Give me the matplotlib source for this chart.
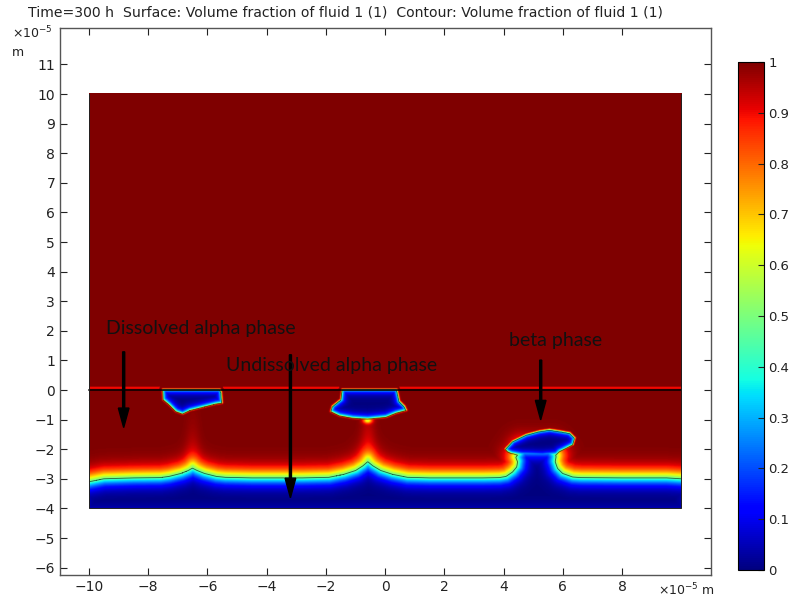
import numpy as np
import matplotlib.pyplot as plt
from matplotlib.path import Path

# interface (x, y in 1e-5 m)
bottom_x = [-10.5, -10.0, -9.5, -8.5, -7.6, -7.3, -6.9, -6.65, -6.51, -6.35, -6.1, -5.7, -5.4,
            -4.5, -2.8, -1.9, -1.4, -1.0, -0.75, -0.59, -0.42, -0.15, 0.25, 0.75, 1.5,
            3.3, 3.85, 4.08, 4.30, 4.44, 4.47, 4.41, 4.6, 5.6, 5.77, 5.74, 5.82, 5.99,
            6.33, 6.61, 8.0, 9.5, 10.0, 10.5, 10.5, -10.5]
bottom_y = [-3.12, -3.1, -3.0, -2.97, -2.96, -2.92, -2.82, -2.72, -2.64, -2.72, -2.82, -2.92, -2.95,
            -2.97, -2.97, -2.95, -2.85, -2.72, -2.56, -2.42, -2.56, -2.72, -2.85, -2.95, -2.97,
            -2.97, -2.96, -2.92, -2.77, -2.60, -2.43, -2.28, -2.0, -2.0, -2.24, -2.43, -2.65, -2.82,
            -2.94, -2.96, -2.97, -2.97, -3.0, -3.02, -4.5, -4.5]

blob1_x = [-7.52, -7.50, -7.30, -7.07, -6.85, -6.60, -6.28, -5.72, -5.52, -5.55, -5.59]
blob1_y = [0.0, -0.34, -0.51, -0.74, -0.82, -0.70, -0.62, -0.48, -0.45, -0.10, 0.0]

blob2_x = [-1.46, -1.50, -1.79, -1.84, -1.55, -1.10, -0.60, 0.02, 0.36, 0.70, 0.64, 0.47, 0.38]
blob2_y = [0.0, -0.34, -0.57, -0.74, -0.88, -0.96, -0.99, -0.93, -0.79, -0.70, -0.57, -0.40, 0.0]

beta_x = [4.05, 4.30, 4.75, 5.20, 5.54, 5.88, 6.22, 6.39, 6.33, 6.10, 5.88, 5.77, 5.3, 4.6, 4.25, 4.12]
beta_y = [-2.01, -1.75, -1.53, -1.41, -1.36, -1.41, -1.47, -1.64, -1.86, -1.98, -2.09, -2.20, -2.25, -2.22, -2.15, -2.09]

peaks_x = [-6.51, -0.59]
peaks_y = [-2.64, -2.42]
plume_len = [0.8, 1.3]

cbar_ticks = [0, 0.1, 0.2, 0.3, 0.4, 0.5, 0.6, 0.7, 0.8, 0.9, 1]
cbar_labels = ["0", "0.1", "0.2", "0.3", "0.4", "0.5", "0.6", "0.7", "0.8", "0.9", "1"]


def signed_dist(px, py, vx, vy):
    verts = np.column_stack([vx, vy])
    d = np.full(px.shape, np.inf)
    for i in range(len(verts)):
        x1, y1 = verts[i]
        x2, y2 = verts[(i + 1) % len(verts)]
        dx, dy = x2 - x1, y2 - y1
        t = np.clip(((px - x1) * dx + (py - y1) * dy) / (dx * dx + dy * dy), 0, 1)
        d = np.minimum(d, np.hypot(px - x1 - t * dx, py - y1 - t * dy))
    inside = Path(verts).contains_points(np.column_stack([px.ravel(), py.ravel()])).reshape(px.shape)
    return np.where(inside, -d, d)


xs = np.linspace(-10, 10, 801)
ys = np.linspace(-4, 10, 561)
X, Y = np.meshgrid(xs, ys)
phi = np.ones_like(X)
low = ys < 0.3
XL, YL = X[low], Y[low]

# diffuse bottom layer
db = signed_dist(XL, YL, bottom_x, bottom_y)
phi_b = 0.5 * (1 + np.tanh(db / np.where(db > 0, 0.36, 0.32)))
for xp, yp, L in zip(peaks_x, peaks_y, plume_len):
    h = np.clip(YL - yp, 0, None)
    phi_b -= 0.12 * np.exp(-((XL - xp) / 0.25) ** 2) * np.exp(-h / L) * (1 - np.exp(-h / 0.25))
phi_b -= 0.35 * np.exp(-(((XL + 0.6) / 0.15) ** 2 + ((YL + 1.05) / 0.1) ** 2))

# sharp blobs
dmin = np.full(XL.shape, np.inf)
phi_s = np.ones_like(XL)
for bx, by in [(blob1_x, blob1_y), (blob2_x, blob2_y), (beta_x, beta_y)]:
    d = signed_dist(XL, YL, bx, by)
    dmin = np.minimum(dmin, d)
    p = np.where(d > 0, 0.5 + 0.5 * np.tanh(d / 0.035), 0.5 * np.exp(d / 0.09))
    phi_s = np.minimum(phi_s, p)

f = np.minimum(phi_b, phi_s)
band = (YL > 0.0) & (YL < 0.1) & (dmin > 0.12)
f = np.where(band, 0.9, f)
f = np.where((YL >= 0) & ~band, np.maximum(f, np.where(dmin > 0, 0.5 + 0.5 * np.tanh(dmin / 0.03), f)), f)
f[YL >= 0.1] = 1.0
phi[low] = np.clip(f, 0, 1)

fig = plt.figure(figsize=(7.92, 6), dpi=100)
ax = fig.add_axes([60 / 792, 24.7 / 600, 651 / 792, 547 / 600])
im = ax.imshow(phi, extent=[-10, 10, -4, 10], origin="lower", cmap="jet", vmin=0, vmax=1,
               interpolation="bilinear", aspect="auto")
ax.contour(X, Y, phi, levels=[0.5], colors="k", linewidths=0.6, alpha=0.6)
ax.plot([-10, 10], [0, 0], color="black", lw=1.1)
ax.plot([-10, -10, 10, 10], [10, -4, -4, 10], color="#222222", lw=0.7)

ax.set_xlim(-10.98, 11.0)
ax.set_ylim(-6.26, 12.22)
ax.set_xticks(range(-10, 10, 2))
ax.set_yticks(range(-6, 12))
ax.tick_params(direction="in", length=5, top=True, right=True, labelsize=10, colors="#222222")
for s in ax.spines.values():
    s.set_color("#555555")
    s.set_linewidth(1.0)

fig.text(12 / 792, 1 - 33 / 600, r"$\times$10$^{-5}$", fontsize=9, va="center", color="#222222")
fig.text(12 / 792, 1 - 52 / 600, "m", fontsize=9, va="center", color="#222222")
fig.text(658 / 792, 1 - 590 / 600, r"$\times$10$^{-5}$ m", fontsize=9, va="center", color="#222222")
fig.text(28 / 792, 1 - 12 / 600,
         "Time=300 h  Surface: Volume fraction of fluid 1 (1)  Contour: Volume fraction of fluid 1 (1)",
         fontsize=10.1, va="center", color="#222222")

ann_font = dict(family="Lato", fontsize=14, color="#111111", va="baseline")
ax.text(-9.41, 1.89, "Dissolved alpha phase", **ann_font)
ax.text(-5.36, 0.65, "Undissolved alpha phase", **ann_font)
ax.text(4.19, 1.50, "beta phase", **ann_font)
for x0, y0, y1 in [(-8.83, 1.29, -1.27), (-3.20, 1.19, -3.64), (5.25, 1.01, -1.01)]:
    ax.arrow(x0, y0, 0, y1 - y0, width=0.07, head_width=0.36, head_length=0.66,
             length_includes_head=True, color="black")

cax = fig.add_axes([738 / 792, 30 / 600, 26 / 792, 508 / 600])
cb = fig.colorbar(im, cax=cax, ticks=cbar_ticks)
cb.ax.set_yticklabels(cbar_labels)
cb.ax.tick_params(direction="in", length=4, labelsize=9.5, pad=3, colors="#222222")
cb.outline.set_edgecolor("black")

fig.savefig("out.png", dpi=100)
